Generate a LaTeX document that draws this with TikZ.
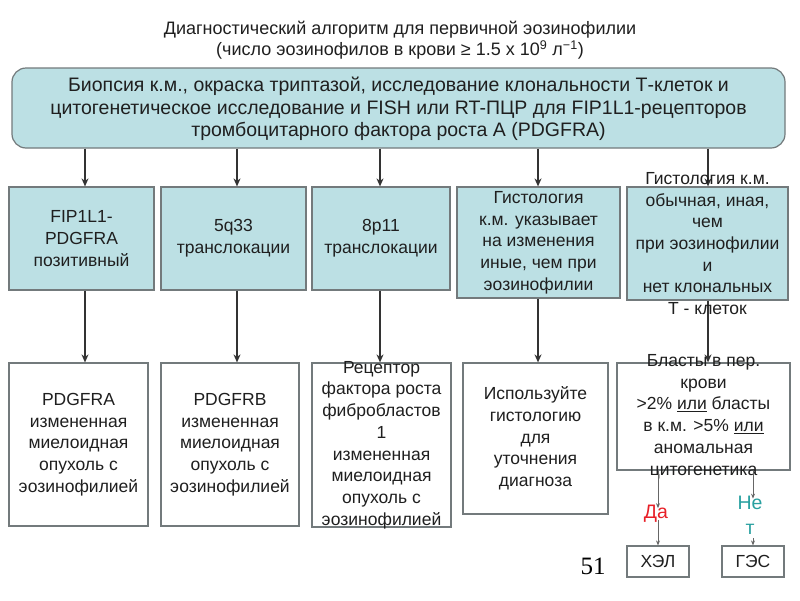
\documentclass[tikz,border=0pt]{standalone}
\usepackage{fontspec}
\setmainfont{Liberation Sans}
\newfontfamily\serifnum{Liberation Serif}
\usetikzlibrary{arrows.meta,fit}
\definecolor{boxblue}{RGB}{188,224,228}
\definecolor{edgegrey}{RGB}{115,122,124}
\definecolor{dared}{RGB}{232,32,40}
\definecolor{netteal}{RGB}{40,160,160}
\begin{document}
\begin{tikzpicture}[x=1pt,y=-1pt,
  bluebox/.style={draw=edgegrey, line width=1.2pt, fill=boxblue, inner sep=0pt},
  whitebox/.style={draw=edgegrey, line width=1.2pt, fill=white, inner sep=0pt},
  txt/.style={align=center, text=black!88, font=\fontsize{17.5}{21.7}\selectfont, inner sep=0pt},
  arr/.style={draw=black!80, line width=1.3pt, -{Stealth[length=8pt,width=7pt]}},
  thinarr/.style={draw=black!60, line width=0.8pt, -{Stealth[length=5pt,width=4pt]}},
]
\useasboundingbox (0,0) rectangle (800,600);
\fill[white] (0,0) rectangle (800,600);

% title
\node[txt, font=\fontsize{18}{21}\selectfont] (title) at (400,40)
  {Диагностический алгоритм для первичной эозинофилии\\(число эозинофилов в крови ≥ 1.5 x 10\textsuperscript{9} л\textsuperscript{−1})};

% top box
\node[bluebox, rounded corners=14pt, fit={(12,68) (785,148)}] (top) {};
\node[txt, font=\fontsize{19.5}{22.5}\selectfont] (topt) at ([yshift=-1pt]top.center)
  {Биопсия к.м., окраска триптазой, исследование клональности Т-клеток и\\цитогенетическое исследование и FISH или RT-ПЦР для FIP1L1-рецепторов\\тромбоцитарного фактора роста А (PDGFRA)};

% middle row
\node[bluebox, fit={(9,187) (154,290)}] (m1) {};
\node[bluebox, fit={(161,187) (306,290)}] (m2) {};
\node[bluebox, fit={(312,187) (450,290)}] (m3) {};
\node[bluebox, fit={(457,187) (620,298)}] (m4) {};
\node[bluebox, fit={(627,187) (788,300)}] (m5) {};

% bottom row
\node[whitebox, fit={(9,363) (148,526)}] (b1) {};
\node[whitebox, fit={(161,363) (299,526)}] (b2) {};
\node[whitebox, fit={(312,363) (451,527)}] (b3) {};
\node[whitebox, fit={(463,363) (608,514)}] (b4) {};
\node[whitebox, fit={(617,363) (790,470)}] (b5) {};
\node[whitebox, fit={(627,546) (689,577)}] (xel) {};
\node[whitebox, fit={(722,546) (784,577)}] (ges) {};

% arrows top -> middle
\foreach \m/\x in {m1/85,m2/237,m3/380,m4/538,m5/708}{
  \coordinate (a\m) at (\x,0);
  \draw[arr] (top.south -| a\m) -- (\m.north -| a\m);
}
% arrows middle -> bottom
\foreach \m/\b/\x in {m1/b1/85,m2/b2/237,m3/b3/380,m4/b4/538,m5/b5/708}{
  \coordinate (c\m) at (\x,0);
  \draw[arr] (\m.south -| c\m) -- (\b.north -| c\m);
}

% texts middle
\node[txt] (m1t) at (m1.center) {FIP1L1-\\PDGFRA\\позитивный};
\node[txt] (m2t) at (m2.center) {5q33\\транслокации};
\node[txt] (m3t) at (m3.center) {8p11\\транслокации};
\node[txt] (m4t) at (m4.center) {Гистология\\к.м. указывает\\на изменения\\иные, чем при\\эозинофилии};
\node[txt] (m5t) at (m5.center) {Гистология к.м.\\обычная, иная,\\чем\\при эозинофилии\\и\\нет клональных\\Т - клеток};

% texts bottom
\node[txt] (b1t) at (b1.center) {PDGFRA\\измененная\\миелоидная\\опухоль с\\эозинофилией};
\node[txt] (b2t) at (b2.center) {PDGFRB\\измененная\\миелоидная\\опухоль с\\эозинофилией};
\node[txt] (b3t) at (b3.center) {Рецептор\\фактора роста\\фибробластов\\1\\измененная\\миелоидная\\опухоль с\\эозинофилией};
\node[txt] (b4t) at (b4.center) {Используйте\\гистологию\\для\\уточнения\\диагноза};
\node[txt] (b5t) at (b5.center) {Бласты в пер.\\крови\\>2\% \underline{или} бласты\\в к.м. >5\% \underline{или}\\аномальная\\цитогенетика};
\node[txt] (xelt) at (xel.center) {ХЭЛ};
\node[txt] (gest) at (ges.center) {ГЭС};

% yes / no
\node[txt, text=dared, font=\fontsize{19.5}{24}\selectfont] (da) at (656,514) {Да};
\node[txt, text=netteal, font=\fontsize{19.5}{25}\selectfont] (net) at (750,515) {Не\\т};
\draw[thinarr] (b5.south -| xel) -- ([yshift=-3pt]da.north -| xel);
\draw[thinarr] ([yshift=3pt]da.south -| xel) -- (xel.north);
\draw[thinarr] (b5.south -| ges) -- ([yshift=-3pt]net.north -| ges);
\draw[thinarr] ([yshift=-4pt]net.south -| ges) -- (ges.north);

% page number
\node[font=\serifnum\fontsize{25}{25}\selectfont, inner sep=0pt] (num) at (593,566) {51};
\end{tikzpicture}
\end{document}
